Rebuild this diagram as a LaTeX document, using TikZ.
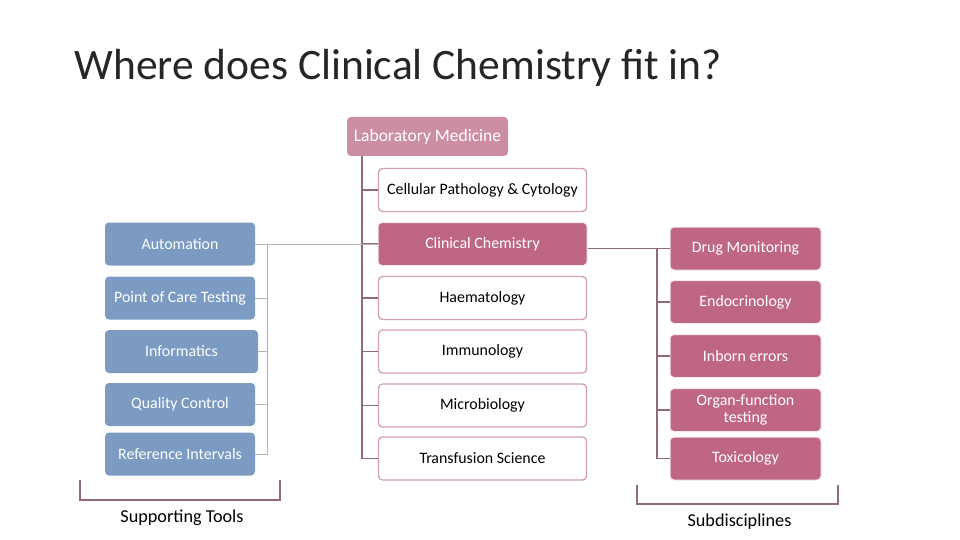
\documentclass[tikz,border=0pt]{standalone}
\usepackage{fontspec}
\setmainfont{Carlito}
\definecolor{labpink}{RGB}{204,142,163}
\definecolor{deeppink}{RGB}{190,102,132}
\definecolor{toolblue}{RGB}{123,155,194}
\definecolor{edgepink}{RGB}{210,160,180}
\definecolor{mauve}{RGB}{145,105,122}
\definecolor{greyline}{RGB}{185,180,165}
\definecolor{titlegrey}{RGB}{38,38,38}
\tikzset{
  box/.style={rectangle,rounded corners=4pt,minimum height=43pt,inner sep=0pt,
    font=\fontsize{15.9}{17}\selectfont,align=center},
  openbox/.style={box,draw=edgepink,line width=1.3pt,fill=white,minimum width=208pt},
  subbox/.style={box,draw=white!85!deeppink,line width=1pt,fill=deeppink,text=white,minimum width=151pt},
  toolbox/.style={box,fill=toolblue,text=white,minimum width=150pt},
  bracket/.style={draw=mauve,line width=1.2pt}
}
\begin{document}
\begin{tikzpicture}[x=1pt,y=-1pt]
  \useasboundingbox (0,0) rectangle (960,540);
  \node[anchor=base west,text=titlegrey,font=\fontsize{43.5}{48}\selectfont] (title) at (71,80) {Where does Clinical Chemistry fit in?};
  % centre column
  \node[box,fill=labpink,text=white,minimum width=161pt,minimum height=39pt,font=\fontsize{17.5}{19}\selectfont] (labmed) at (427.5,136.5) {Laboratory Medicine};
  \node[openbox] (cell) at (482.5,190) {Cellular Pathology \& Cytology};
  \node[subbox,minimum width=209pt] (clin) at (482.5,244) {Clinical Chemistry};
  \node[openbox] (haem) at (482.5,298) {Haematology};
  \node[openbox] (immu) at (482.5,351.5) {Immunology};
  \node[openbox] (micro) at (482.5,405.5) {Microbiology};
  \node[openbox] (trans) at (482.5,458.5) {Transfusion Science};
  % supporting tools
  \node[toolbox] (auto) at (180,244) {Automation};
  \node[toolbox] (poct) at (180,298) {Point of Care Testing};
  \node[toolbox,minimum width=153pt] (info) at (181.5,351.5) {Informatics};
  \node[toolbox] (qc) at (180,404.5) {Quality Control};
  \node[toolbox] (ref) at (180,454) {Reference Intervals};
  % subdisciplines
  \node[subbox] (drug) at (745.5,248.5) {Drug Monitoring};
  \node[subbox] (endo) at (745.5,302) {Endocrinology};
  \node[subbox] (inborn) at (745.5,356) {Inborn errors};
  \node[subbox] (organ) at (745.5,410) {Organ-function\\testing};
  \node[subbox] (tox) at (745.5,458.5) {Toxicology};
  % connectors
  \coordinate (mbus) at (362,0);
  \coordinate (lbus) at (267,0);
  \coordinate (rbus) at (657,0);
  \draw[mauve,line width=1.3pt] (labmed.south -| mbus) |- (trans.west);
  \foreach \n in {cell,clin,haem,immu,micro}
    \draw[mauve,line width=1.3pt] (\n.west -| mbus) -- (\n.west);
  \draw[greyline,line width=1pt] (auto.east) -- (clin.west);
  \draw[greyline,line width=1pt] (auto.east -| lbus) |- (ref.east);
  \foreach \n in {poct,info,qc}
    \draw[greyline,line width=1pt] (\n.east) -- (\n.east -| lbus);
  \draw[mauve,line width=1.3pt] (clin.east |- drug.west) -- (drug.west);
  \draw[mauve,line width=1.3pt] (drug.west -| rbus) |- (tox.west);
  \foreach \n in {endo,inborn,organ}
    \draw[mauve,line width=1.3pt] (\n.west -| rbus) -- (\n.west);
  % brackets
  \coordinate (lb1) at (80,480);
  \coordinate (lb2) at (280,480);
  \coordinate (rb1) at (637,485);
  \coordinate (rb2) at (838,485);
  \draw[bracket] (lb1) -- ++(0,20) -| (lb2);
  \draw[bracket] (rb1) -- ++(0,19) -| (rb2);
  \node[font=\fontsize{18.2}{20}\selectfont] (tools) at (182,518) {Supporting Tools};
  \node[font=\fontsize{18.2}{20}\selectfont] (subdis) at (739.5,522) {Subdisciplines};
\end{tikzpicture}
\end{document}
